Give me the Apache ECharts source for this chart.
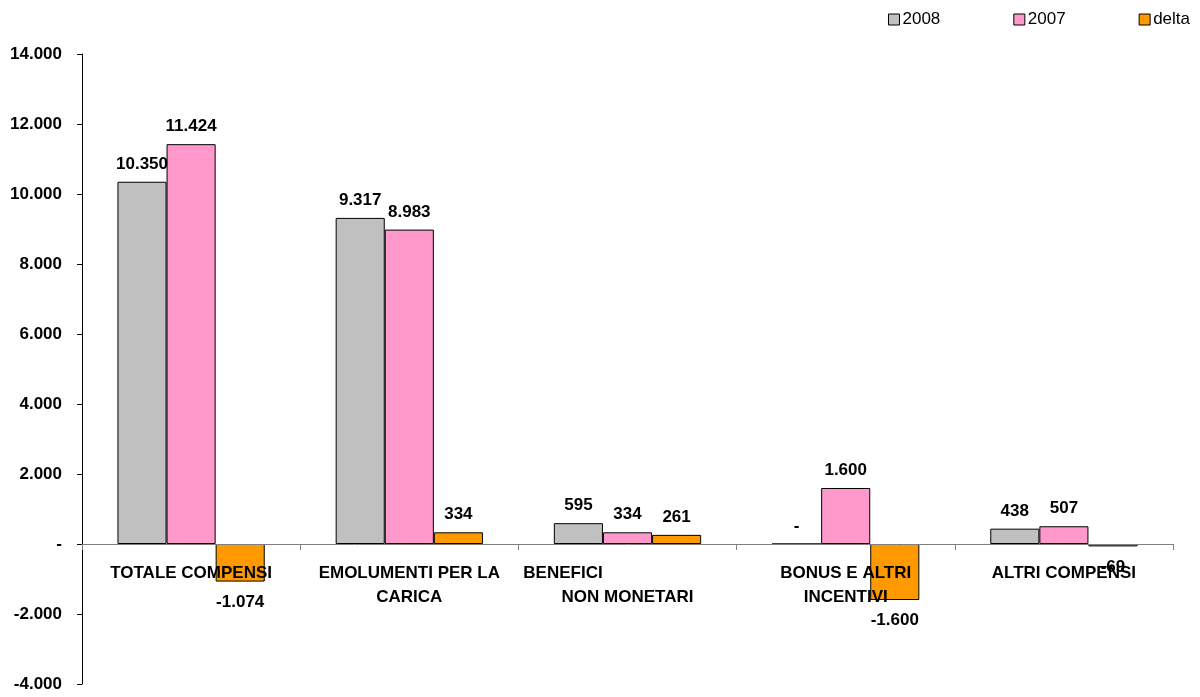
<!DOCTYPE html>
<html>
<head>
<meta charset="utf-8">
<script src="https://cdn.jsdelivr.net/npm/echarts@6/dist/echarts.min.js"></script>
<style>
    html, body { margin: 0; padding: 0; background: #fff; }
    #chart { width: 1200px; height: 697px; }
</style>
</head>
<body>
<div id="chart"></div>
<script>
// dati
var categorie = ['TOTALE COMPENSI', 'EMOLUMENTI PER LA\nCARICA', 'BENEFICI\nNON MONETARI', 'BONUS E ALTRI\nINCENTIVI', 'ALTRI COMPENSI'];
var serie2008 = [10350, 9317, 595, 0, 438];
var serie2007 = [11424, 8983, 334, 1600, 507];
var serieDelta = [-1074, 334, 261, -1600, -69];
var nomiSerie = ['2008', '2007', 'delta'];

var font = 'Liberation Sans, Arial, sans-serif';

// formato numeri con punto per le migliaia, "-" per zero
function fmt(v) {
    if (v === 0) return '-';
    var s = Math.abs(v).toString().replace(/\B(?=(\d{3})+(?!\d))/g, '.');
    return (v < 0 ? '-' : '') + s;
}

function creaDati(arr) {
    return arr.map(function(v) {
        return {
            value: v,
            label: { position: v < 0 ? 'bottom' : 'top', distance: v < 0 ? 12 : 9 }
        };
    });
}

function creaSerie(nome, arr, colore) {
    return {
        name: nome,
        type: 'bar',
        barGap: '0%',
        barCategoryGap: '32.5%',
        data: creaDati(arr),
        itemStyle: {
            color: colore,
            borderColor: '#000',
            borderWidth: 1
        },
        label: {
            show: true,
            fontFamily: font,
            fontSize: 17,
            fontWeight: 'bold',
            color: '#000',
            formatter: function(p) { return fmt(p.value); }
        }
    };
}

var myChart = echarts.init(document.getElementById('chart'));
var option = {
    backgroundColor: '#fff',
    animation: false,
    legend: {
        data: nomiSerie,
        right: 5,
        top: 6,
        itemWidth: 11,
        itemHeight: 11,
        itemGap: 73,
        icon: 'rect',
        itemStyle: { borderColor: '#000', borderWidth: 1 },
        textStyle: { fontFamily: font, fontSize: 17, color: '#000', padding: [0, 0, 0, -2] }
    },
    grid: { left: 82, right: 27, top: 54, bottom: 13, outerBoundsMode: 'none' },
    xAxis: {
        type: 'category',
        data: categorie,
        z: 5,
        axisLine: { onZero: true, lineStyle: { color: '#808080', width: 1 } },
        axisTick: { show: true, length: 6, lineStyle: { color: '#808080' } },
        axisLabel: {
            interval: 0,
            margin: -123,
            fontFamily: font,
            fontSize: 17,
            fontWeight: 'bold',
            color: '#000',
            lineHeight: 24,
            verticalAlign: 'top',
            formatter: function(v) {
                if (v.indexOf('BENEFICI') === 0) {
                    return '{a|BENEFICI}\n' + 'NON MONETARI';
                }
                return v;
            },
            rich: {
                a: { fontFamily: font, fontSize: 17, fontWeight: 'bold', color: '#000', padding: [0, 129, 0, 0] }
            }
        }
    },
    yAxis: {
        type: 'value',
        min: -4000,
        max: 14000,
        interval: 2000,
        splitLine: { show: false },
        axisLine: { show: true, lineStyle: { color: '#000', width: 1 } },
        axisTick: { show: true, length: 5, lineStyle: { color: '#000' } },
        axisLabel: {
            margin: 20,
            fontFamily: font,
            fontSize: 17,
            fontWeight: 'bold',
            color: '#000',
            formatter: function(v) { return fmt(v); }
        }
    },
    series: [
        creaSerie(nomiSerie[0], serie2008, '#C0C0C0'),
        creaSerie(nomiSerie[1], serie2007, '#FF99CC'),
        creaSerie(nomiSerie[2], serieDelta, '#FF9900')
    ]
};
myChart.setOption(option);
</script>
</body>
</html>
